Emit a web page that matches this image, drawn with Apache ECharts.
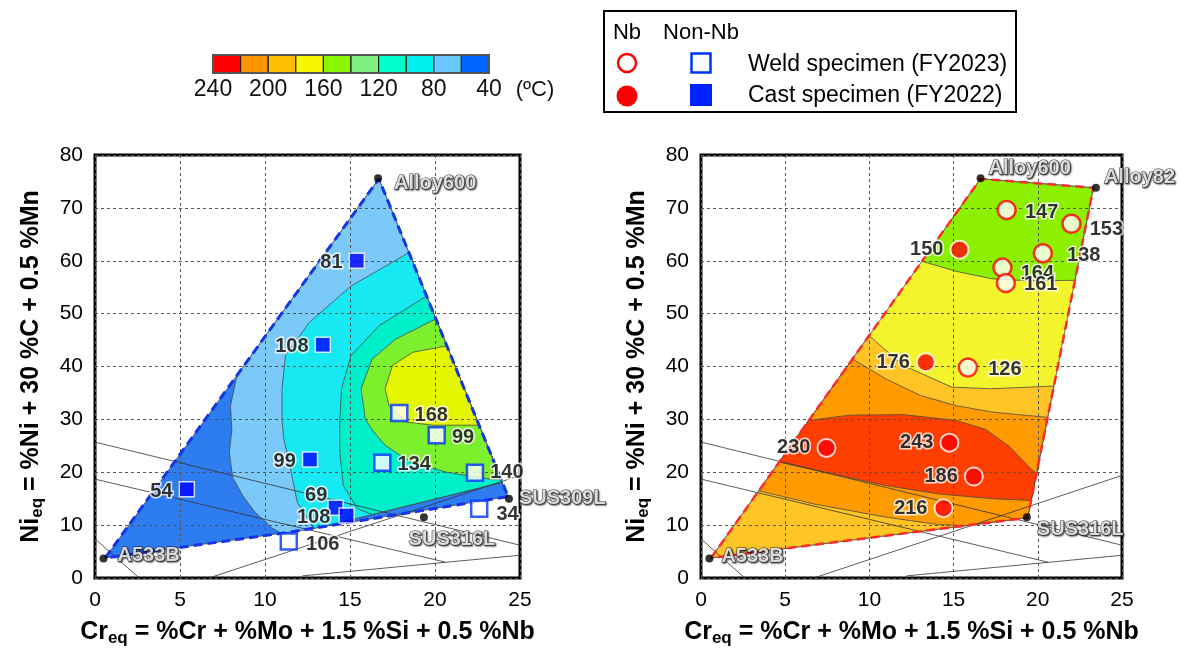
<!DOCTYPE html>
<html><head><meta charset="utf-8">
<script src="https://cdn.jsdelivr.net/npm/echarts/dist/echarts.min.js"></script>
<style>html,body{margin:0;padding:0;background:#fff}#c{width:1181px;height:652px}</style>
</head><body><div id="c"></div>
<script>
// ---------- DATA ----------
const COLORBAR_COLORS = ['#FF0000','#FF9500','#FFBF00','#F7F700','#8CF500','#80F080','#00FFCC','#00F0F0','#66C8FF','#0066FF'];
const COLORBAR_LABELS = ['240','200','160','120','80','40'];

// Left map (Non-Nb): domain and superlevel regions (Cr_eq, Ni_eq)
const LEFT_DOMAIN = [[0.6,3.8],[16.7,75.5],[24.3,15.4],[11.5,8.7]];
const LEFT_GE60 = [[6,45],[8.4,39],[7.97,32.6],[8.05,28],[7.9,23.8],[8.1,19],[8.7,15.5],[9.4,12.5],[10.4,9.5],[11,8.4],[11.3,5],[12.9,5],[12.9,9.3],[23.95,18.1],[26,19.6],[30,19.6],[30,90],[6,90]];
const LEFT_GE80 = [[19.5,64],[18.45,61.5],[15.05,55.2],[12.6,48.3],[11.2,42],[11.0,35.8],[11.0,30],[11.1,26.4],[11.5,20.6],[11.9,14.3],[12.9,9.3],[23.95,18.1],[26,19.6],[30,19.6],[30,64]];
const LEFT_GE100 = [[20.5,56],[19.5,53.3],[16.7,47.7],[15.05,42],[14.5,35.8],[14.4,30],[14.4,23.8],[14.6,17.5],[15.45,13.1],[16.3,12.0],[23.95,18.1],[26,19.6],[30,19.6],[30,56]];
const LEFT_GE120 = [[21,52],[20.05,49],[17.7,45.2],[16.3,41.4],[15.65,35.8],[15.9,30.1],[16.3,28],[17.1,25],[18.6,21.9],[20.7,20],[23.4,18.6],[26,18.6],[30,18.6],[30,52]];
const LEFT_GE160 = [[21.5,46],[20.69,43.9],[18.7,42.7],[17.5,40.2],[17.06,35.8],[17.3,32.6],[18.3,29.5],[19.9,28.9],[22.58,28.9],[26,28.9],[26,46]];
const LEFT_REGION_COLORS = ['#2D7CF0','#7AC9F9','#16E9F2','#00EFCB','#7CF02C','#E4F600'];

// Right map (Nb)
const RIGHT_DOMAIN = [[0.6,3.8],[16.6,75.5],[23.3,73.8],[19.4,11.4]];
const RIGHT_GREEN = [[11,62],[13.12,59.9],[15.15,58.0],[17.25,56.6],[19.4,56.2],[22.18,56.3],[26,56.3],[26,85],[11,85]];
const RIGHT_GOLD = [[8,48],[10.0,45.8],[12.0,40.2],[14.9,36.1],[17.25,35.8],[20.9,36.3],[26,36.3],[26,-5],[-5,-5],[-5,48]];
const RIGHT_ORANGE = [[5,41.4],[9.0,41.4],[10.95,37.7],[13.05,34.5],[15.15,32.6],[17.25,31.4],[20.52,30.4],[26,30.4],[26,5],[16.5,5],[16.5,9.8],[14.1,10.1],[11,11.5],[6.7,14.0],[3.43,16.5],[0,16.5]];
const RIGHT_RED = [[2,29.8],[6.4,29.8],[8.85,30.8],[12,30.9],[15.15,29.8],[16.9,28.1],[18.3,24.9],[19.6,20.6],[19.92,19.8],[22,19.8],[22,14.65],[19.6,14.65],[17.3,15.0],[14.1,15.9],[10.95,17.5],[7.8,19.7],[4.64,21.9],[2,21.9]];
const RIGHT_REGION_COLORS = ['#F4F42C','#8CF000','#FFC425','#FF9A00','#FF3F00'];

// Background constitution-diagram lines
const SCHAEFFLER_LINES = [
  [[0,25.7],[25,6.2]],
  [[0,18.7],[20.6,3.0]],
  [[6.7,0],[25,19.4]],
  [[12.2,0.4],[25,4.3]],
  [[0,7.4],[2.6,0]]
];

// Reference alloys [name, Cr_eq, Ni_eq]
const LEFT_ALLOYS = [['A533B',0.5,3.7],['Alloy600',16.65,75.6],['SUS316L',19.35,11.5],['SUS309L',24.35,15.0]];
const RIGHT_ALLOYS = [['A533B',0.5,3.7],['Alloy600',16.6,75.6],['Alloy82',23.45,73.8],['SUS316L',19.35,11.5]];

// Specimens [Cr_eq, Ni_eq, temperature]
const NONNB_CAST = [[15.4,60.0,81],[13.4,44.1,108],[12.65,22.4,99],[5.4,16.8,54],[14.15,13.3,69],[14.8,11.8,108]];
const NONNB_WELD = [[17.9,31.2,168],[20.1,27.0,99],[16.9,21.8,134],[22.35,19.9,140],[11.4,6.9,106],[22.6,13.1,34]];
const NB_CAST = [[15.35,62.1,150],[13.35,40.8,176],[14.4,13.2,216],[7.45,24.6,230],[14.75,25.6,243],[16.2,19.2,186]];
const NB_WELD = [[18.15,69.6,147],[22.0,67.0,153],[20.3,61.4,138],[17.9,58.7,164],[18.1,55.8,161],[15.85,39.8,126]];

// label placement [position, dx, dy]
const NONNB_CAST_LBL = [['left',0,2],['left',0,2],['left',0,2],['left',0,2],['left',6,-12],['left',-2,2]];
const NONNB_WELD_LBL = [['right',0,2],['right',0,2],['right',0,2],['right',0,0],['right',2,3],['right',2,6]];
const NB_CAST_LBL = [['left',0,0],['left',0,0],['left',0,0],['left',0,0],['left',0,0],['left',0,0]];
const NB_WELD_LBL = [['right',2,2],['right',2,6],['right',8,2],['right',2,6],['right',2,2],['right',4,2]];

const FONT = '"Liberation Sans", Arial, Helvetica, sans-serif';

// ---------- helpers ----------
function clipPoly(subject, clip) {
  let area = 0;
  for (let i = 0; i < clip.length; i++) {
    const a = clip[i], b = clip[(i + 1) % clip.length];
    area += a[0] * b[1] - b[0] * a[1];
  }
  const s = Math.sign(area);
  let out = subject.slice();
  for (let i = 0; i < clip.length && out.length; i++) {
    const A = clip[i], B = clip[(i + 1) % clip.length];
    const side = p => s * ((B[0] - A[0]) * (p[1] - A[1]) - (B[1] - A[1]) * (p[0] - A[0]));
    const inp = out; out = [];
    for (let j = 0; j < inp.length; j++) {
      const cur = inp[j], prev = inp[(j + inp.length - 1) % inp.length];
      const sc = side(cur), sp = side(prev);
      if (sc >= 0) {
        if (sp < 0) { const t = sp / (sp - sc); out.push([prev[0] + t * (cur[0] - prev[0]), prev[1] + t * (cur[1] - prev[1])]); }
        out.push(cur);
      } else if (sp >= 0) {
        const t = sp / (sp - sc); out.push([prev[0] + t * (cur[0] - prev[0]), prev[1] + t * (cur[1] - prev[1])]);
      }
    }
  }
  return out;
}

function fillSeries(g, domain, polys, colors) {
  return {
    type: 'custom', xAxisIndex: g, yAxisIndex: g, z: 1, silent: true,
    data: polys.map(() => [1, 1]),
    renderItem: (params, api) => {
      const pts = clipPoly(polys[params.dataIndex], domain);
      if (pts.length < 3) return null;
      return { type: 'polygon', shape: { points: pts.map(p => api.coord(p)) },
        style: { fill: colors[params.dataIndex], stroke: '#4a4a4a', lineWidth: 0.8 } };
    }
  };
}

function boundarySeries(g, domain, color, w) {
  return { type: 'line', xAxisIndex: g, yAxisIndex: g, z: 6, silent: true, symbol: 'none',
    data: domain.concat([domain[0]]),
    lineStyle: { color: color, width: w, type: [9, 5] } };
}

function schaefflerSeries(g) {
  return SCHAEFFLER_LINES.map(l => ({ type: 'line', xAxisIndex: g, yAxisIndex: g, z: 4, silent: true,
    symbol: 'none', data: l, lineStyle: { color: '#333', width: 0.8 } }));
}

const ALLOY_LBL = {
  'L:A533B': ['right', 6, -3], 'L:Alloy600': ['right', 8, 5], 'L:SUS316L': ['bottom', 28, 4], 'L:SUS309L': ['right', 2, 0],
  'R:A533B': ['right', 4, -2], 'R:Alloy600': ['right', 0, -10], 'R:Alloy82': ['right', 0, -10], 'R:SUS316L': ['right', 2, 12]
};
function alloySeries(g, alloys, key) {
  return { type: 'scatter', xAxisIndex: g, yAxisIndex: g, z: 8, silent: true,
    symbol: 'circle', symbolSize: 8, itemStyle: { color: '#000' },
    data: alloys.map(a => {
      const l = ALLOY_LBL[key + ':' + a[0]];
      return { value: [a[1], a[2]], label: { show: true, formatter: a[0], position: l[0], distance: 4,
        offset: [l[1], l[2]], color: '#fff', fontSize: 20, fontWeight: 'bold', fontFamily: FONT,
        textBorderColor: '#111', textBorderWidth: 1.1,
        textShadowColor: '#222', textShadowBlur: 1.5, textShadowOffsetX: 1, textShadowOffsetY: 1 } };
    }) };
}

function pointSeries(g, pts, lbls, symbol, size, itemStyle) {
  return { type: 'scatter', xAxisIndex: g, yAxisIndex: g, z: 10, silent: true,
    symbol: symbol, symbolSize: size, itemStyle: itemStyle,
    data: pts.map((p, i) => ({ value: [p[0], p[1]], label: { show: true, formatter: String(p[2]),
      position: lbls[i][0], distance: 6, offset: [lbls[i][1], lbls[i][2]],
      color: '#000', fontSize: 20, fontWeight: 'bold', fontFamily: FONT,
      textBorderColor: '#fff', textBorderWidth: 3 } })) };
}

const NAME_STYLE = { fontSize: 25, fontWeight: 'bold', color: '#000', fontFamily: FONT,
  rich: { s: { fontSize: 17, fontWeight: 'bold', fontFamily: FONT, color: '#000', padding: [13, 0, 0, 0] } } };

function xAxis(g) {
  return { gridIndex: g, type: 'value', min: 0, max: 25, interval: 5, z: 3,
    name: 'Cr{s|eq} = %Cr + %Mo + 1.5 %Si + 0.5 %Nb', nameLocation: 'middle', nameGap: 39,
    nameTextStyle: NAME_STYLE,
    axisLine: { show: false }, axisTick: { show: false },
    axisLabel: { fontSize: 21, color: '#000', margin: 12, fontFamily: FONT },
    splitLine: { show: true, lineStyle: { color: '#555', width: 1, type: [3, 3] } } };
}
function yAxis(g) {
  return { gridIndex: g, type: 'value', min: 0, max: 80, interval: 10, z: 3,
    name: 'Ni{s|eq} = %Ni + 30 %C + 0.5 %Mn', nameLocation: 'middle', nameGap: 49,
    nameTextStyle: NAME_STYLE,
    axisLine: { show: false }, axisTick: { show: false },
    axisLabel: { fontSize: 21, color: '#000', margin: 12, fontFamily: FONT },
    splitLine: { show: true, lineStyle: { color: '#555', width: 1, type: [3, 3] } } };
}

// ---------- graphics: colorbar and legend ----------
const graphics = [];
const cbX = 213, cbY = 55, cbW = 27.6, cbH = 18;
COLORBAR_COLORS.forEach((c, i) => graphics.push({ type: 'rect', shape: { x: cbX + i * cbW, y: cbY, width: cbW, height: cbH },
  style: { fill: c, stroke: '#222', lineWidth: 1.2 } }));
graphics.push({ type: 'rect', shape: { x: cbX, y: cbY, width: cbW * 10, height: cbH }, style: { fill: 'none', stroke: '#555', lineWidth: 2 } });
COLORBAR_LABELS.forEach((t, i) => graphics.push({ type: 'text', x: cbX + i * 2 * cbW, y: 90,
  style: { text: t, fontSize: 23, fontFamily: FONT, fill: '#111', align: 'center', verticalAlign: 'middle' } }));
graphics.push({ type: 'text', x: 535, y: 90, style: { text: '(ºC)', fontSize: 22, fontFamily: FONT, fill: '#111', align: 'center', verticalAlign: 'middle' } });

graphics.push({ type: 'rect', shape: { x: 604, y: 11, width: 412, height: 101 }, style: { fill: '#fff', stroke: '#000', lineWidth: 2 } });
graphics.push({ type: 'text', x: 627, y: 33, style: { text: 'Nb', fontSize: 22, fontFamily: FONT, fill: '#000', align: 'center', verticalAlign: 'middle' } });
graphics.push({ type: 'text', x: 701, y: 33, style: { text: 'Non-Nb', fontSize: 22, fontFamily: FONT, fill: '#000', align: 'center', verticalAlign: 'middle' } });
graphics.push({ type: 'circle', shape: { cx: 627, cy: 63, r: 9 }, style: { fill: '#fff', stroke: '#FF0000', lineWidth: 2.5 } });
graphics.push({ type: 'circle', shape: { cx: 627, cy: 96, r: 10.5 }, style: { fill: '#FF0000' } });
graphics.push({ type: 'rect', shape: { x: 691.5, y: 53.5, width: 19, height: 19 }, style: { fill: '#fff', stroke: '#0033FF', lineWidth: 2.5 } });
graphics.push({ type: 'rect', shape: { x: 690, y: 84, width: 22, height: 22 }, style: { fill: '#0022FF' } });
graphics.push({ type: 'text', x: 748, y: 65, style: { text: 'Weld specimen (FY2023)', fontSize: 23, fontFamily: FONT, fill: '#000', verticalAlign: 'middle' } });
graphics.push({ type: 'text', x: 748, y: 96, style: { text: 'Cast specimen (FY2022)', fontSize: 23, fontFamily: FONT, fill: '#000', verticalAlign: 'middle' } });

// ---------- chart ----------
const chart = echarts.init(document.getElementById('c'), null, { renderer: 'canvas' });
const series = [
  fillSeries(0, LEFT_DOMAIN, [LEFT_DOMAIN, LEFT_GE60, LEFT_GE80, LEFT_GE100, LEFT_GE120, LEFT_GE160], LEFT_REGION_COLORS),
  fillSeries(1, RIGHT_DOMAIN, [RIGHT_DOMAIN, RIGHT_GREEN, RIGHT_GOLD, RIGHT_ORANGE, RIGHT_RED], RIGHT_REGION_COLORS),
  ...schaefflerSeries(0), ...schaefflerSeries(1),
  boundarySeries(0, LEFT_DOMAIN, '#1535E8', 3),
  boundarySeries(1, RIGHT_DOMAIN, '#FF2A2A', 2.5),
  alloySeries(0, LEFT_ALLOYS, 'L'), alloySeries(1, RIGHT_ALLOYS, 'R'),
  pointSeries(0, NONNB_CAST, NONNB_CAST_LBL, 'rect', 15, { color: '#0000FF', borderColor: '#fff', borderWidth: 1.5 }),
  pointSeries(0, NONNB_WELD, NONNB_WELD_LBL, 'rect', 16, { color: '#fff', borderColor: '#0033FF', borderWidth: 2.5 }),
  pointSeries(1, NB_CAST, NB_CAST_LBL, 'circle', 18, { color: '#FF0000', borderColor: '#fff', borderWidth: 2 }),
  pointSeries(1, NB_WELD, NB_WELD_LBL, 'circle', 18, { color: '#fff', borderColor: '#FF0000', borderWidth: 2.5 })
];
chart.setOption({
  animation: false,
  backgroundColor: '#fff',
  grid: [
    { left: 95, top: 155, width: 425, height: 424, show: true, borderColor: '#000', borderWidth: 3, backgroundColor: 'transparent' },
    { left: 701, top: 155, width: 421, height: 424, show: true, borderColor: '#000', borderWidth: 3, backgroundColor: 'transparent' }
  ],
  xAxis: [xAxis(0), xAxis(1)],
  yAxis: [yAxis(0), yAxis(1)],
  graphic: graphics,
  series: series
});
</script></body></html>
